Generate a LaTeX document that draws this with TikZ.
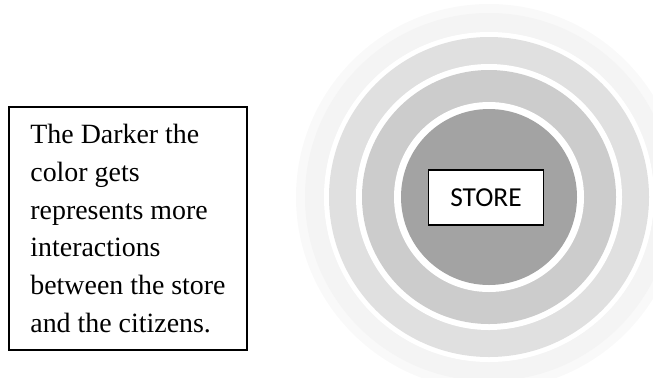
\documentclass[tikz,border=0pt]{standalone}
\usepackage{fontspec}
\setmainfont{Liberation Serif}
\newfontfamily\notefont{Liberation Serif}
\newfontfamily\storefont{Carlito}
\definecolor{ringedge}{gray}{0.975}
\definecolor{ringfaint}{gray}{0.955}
\definecolor{ringlight}{gray}{0.88}
\definecolor{ringmid}{gray}{0.80}
\definecolor{ringdark}{gray}{0.64}

\begin{document}
\begin{tikzpicture}[
    x=1bp, y=-1bp,
    gap/.style={fill=white},
    storebox/.style={rectangle, draw, line width=1.1bp, fill=white, minimum width=115bp, minimum height=55bp, inner sep=0pt, font=\storefont\fontsize{27.5}{30}\selectfont},
    notebox/.style={rectangle, draw, line width=1.1bp, fill=white, minimum width=238bp, minimum height=243bp, align=left, font=\notefont\fontsize{28}{38}\selectfont}
]
\useasboundingbox (0,0) rectangle (653,377);

% Rings around the store
\fill[ringedge] (489,197) circle (193);
\fill[ringfaint] (489,197) circle (184);
\fill[gap] (489,197) circle (165);
\fill[ringlight] (489,197) circle (160);
\fill[gap] (489,197) circle (133);
\fill[ringmid] (489,197) circle (127);
\fill[gap] (489,197) circle (95);
\fill[ringdark] (489,197) circle (88);

% Store
\node[storebox] (store) at (486,197.5) {STORE};

% Note
\node[notebox] (note) at (128,228.5) {The Darker the\\color gets\\represents more\\interactions\\between the store\\and the citizens.};

\end{tikzpicture}
\end{document}
